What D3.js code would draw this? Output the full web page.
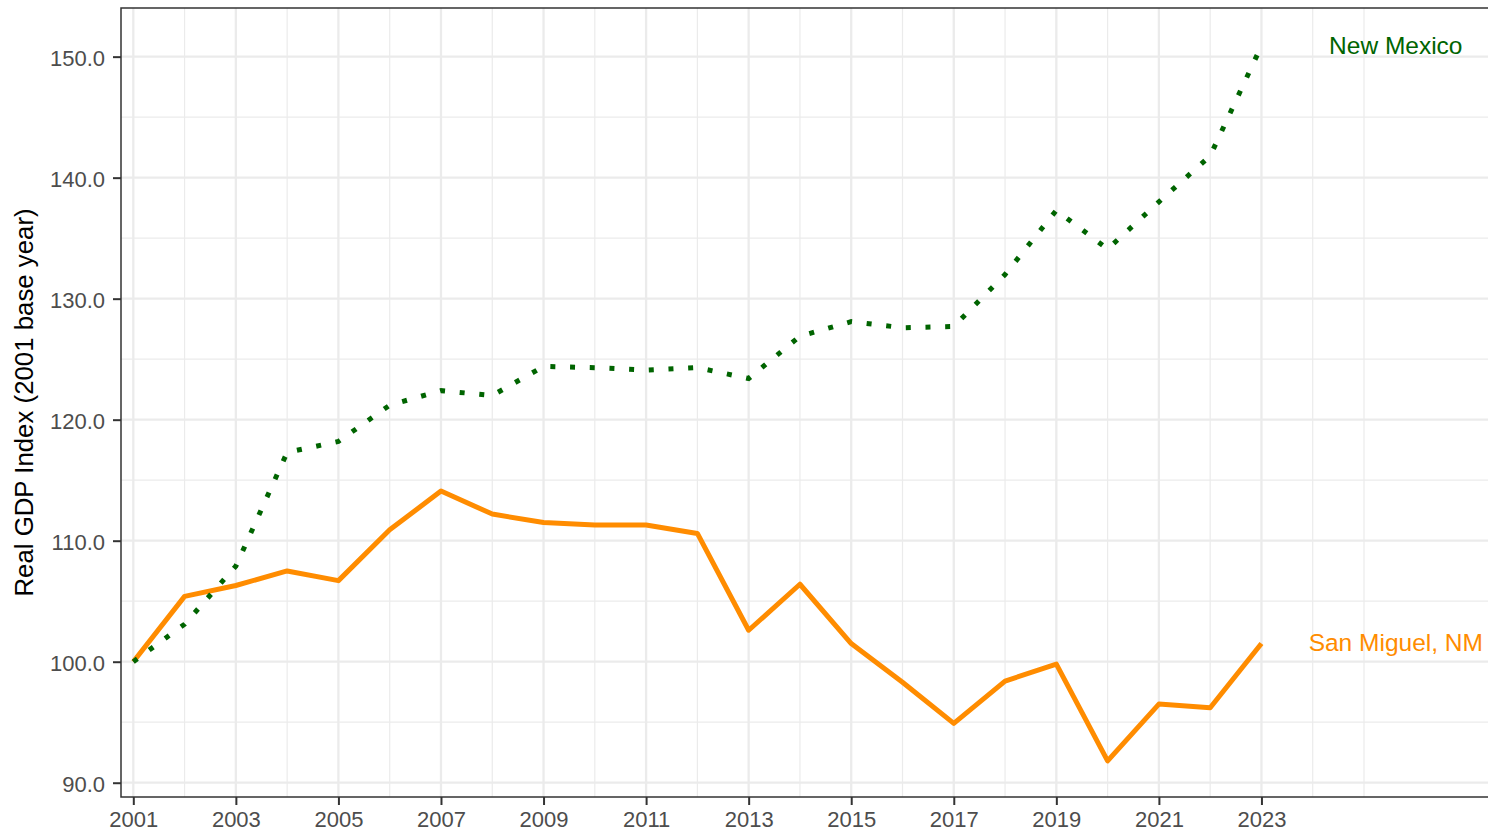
<!DOCTYPE html>
<html>
<head>
<meta charset="utf-8">
<script src="https://cdn.jsdelivr.net/npm/d3@7"></script>
<style>
  html, body { margin: 0; padding: 0; background: #ffffff; }
  svg { display: block; font-family: "Liberation Sans", Arial, Helvetica, sans-serif; }
</style>
</head>
<body>
<svg id="chart" width="1488" height="832"></svg>
<script>
// ---- data ----
const years = [2001, 2002, 2003, 2004, 2005, 2006, 2007, 2008, 2009, 2010, 2011, 2012,
               2013, 2014, 2015, 2016, 2017, 2018, 2019, 2020, 2021, 2022, 2023];
const newMexico = [100.0, 103.1, 107.9, 117.3, 118.2, 121.2, 122.4, 122.0, 124.4, 124.3, 124.1, 124.3,
                   123.4, 126.9, 128.1, 127.6, 127.7, 132.0, 137.3, 134.1, 138.0, 141.8, 150.9];
const sanMiguel = [100.0, 105.4, 106.3, 107.5, 106.7, 110.9, 114.1, 112.2, 111.5, 111.3, 111.3, 110.6,
                   102.6, 106.4, 101.5, 98.3, 94.9, 98.4, 99.8, 91.8, 96.5, 96.2, 101.5];
const seriesNames = ["San Miguel, NM", "New Mexico"];
const xTickYears = [2001, 2003, 2005, 2007, 2009, 2011, 2013, 2015, 2017, 2019, 2021, 2023];
const xMinorYears = [2002, 2004, 2006, 2008, 2010, 2012, 2014, 2016, 2018, 2020, 2022, 2024, 2025];
const yTicks = [90, 100, 110, 120, 130, 140, 150];
const yMinor = [95, 105, 115, 125, 135, 145];
const labelYear = 2025.62;
const yTitle = "Real GDP Index (2001 base year)";

// ---- layout ----
const svg = d3.select("#chart");
const pLeft = 121, pTop = 8, pBottom = 797, pRight = 1496;

const x = d3.scaleLinear().domain([2000.76, 2027.574]).range([pLeft, pRight]);
const y = d3.scaleLinear().domain([88.82, 154.02]).range([pBottom, pTop]);

const g = svg.append("g");

// minor grid
g.append("g").selectAll("line").data(yMinor).join("line")
  .attr("x1", pLeft).attr("x2", pRight)
  .attr("y1", d => y(d)).attr("y2", d => y(d))
  .attr("stroke", "#ebebeb").attr("stroke-width", 1.2);
g.append("g").selectAll("line").data(xMinorYears).join("line")
  .attr("x1", d => x(d)).attr("x2", d => x(d))
  .attr("y1", pTop).attr("y2", pBottom)
  .attr("stroke", "#ebebeb").attr("stroke-width", 1.2);
// major grid
g.append("g").selectAll("line").data(yTicks).join("line")
  .attr("x1", pLeft).attr("x2", pRight)
  .attr("y1", d => y(d)).attr("y2", d => y(d))
  .attr("stroke", "#ebebeb").attr("stroke-width", 2.3);
g.append("g").selectAll("line").data(xTickYears).join("line")
  .attr("x1", d => x(d)).attr("x2", d => x(d))
  .attr("y1", pTop).attr("y2", pBottom)
  .attr("stroke", "#ebebeb").attr("stroke-width", 2.3);

// lines
const rows = years.map((yr, i) => ({ year: yr, nm: newMexico[i], sm: sanMiguel[i] }));
const lineSM = d3.line().x(d => x(d.year)).y(d => y(d.sm));
const lineNM = d3.line().x(d => x(d.year)).y(d => y(d.nm));

g.append("path").datum(rows)
  .attr("d", lineSM)
  .attr("fill", "none").attr("stroke", "#ff8c00")
  .attr("stroke-width", 5).attr("stroke-linejoin", "round").attr("stroke-linecap", "butt");

g.append("path").datum(rows)
  .attr("d", lineNM)
  .attr("fill", "none").attr("stroke", "#006400")
  .attr("stroke-width", 5).attr("stroke-dasharray", "5,14.7").attr("stroke-linecap", "butt");

// labels
g.append("text")
  .attr("x", x(labelYear)).attr("y", y(newMexico[newMexico.length - 1]))
  .attr("dy", "0.32em").attr("text-anchor", "middle")
  .attr("font-size", 24.5).attr("fill", "#006400")
  .text(seriesNames[1]);
g.append("text")
  .attr("x", x(labelYear)).attr("y", y(sanMiguel[sanMiguel.length - 1]))
  .attr("dy", "0.32em").attr("text-anchor", "middle")
  .attr("font-size", 24.5).attr("fill", "#ff8c00")
  .text(seriesNames[0]);

// panel border
g.append("rect")
  .attr("x", pLeft).attr("y", pTop)
  .attr("width", pRight - pLeft).attr("height", pBottom - pTop)
  .attr("fill", "none").attr("stroke", "#333333").attr("stroke-width", 1.5);

// axes
const yAxis = d3.axisLeft(y).tickValues(yTicks).tickFormat(d3.format(".1f")).tickSize(8).tickPadding(8);
const xAxis = d3.axisBottom(x).tickValues(xTickYears).tickFormat(d3.format("d")).tickSize(8).tickPadding(6);

const ya = svg.append("g").attr("transform", `translate(${pLeft},0)`).call(yAxis);
ya.select(".domain").remove();
ya.selectAll(".tick line").attr("stroke", "#333333").attr("stroke-width", 2);
ya.selectAll(".tick text").attr("font-size", 22).attr("fill", "#4d4d4d")
  .attr("font-family", "Liberation Sans, Arial, sans-serif").attr("dy", "0.38em");

const xa = svg.append("g").attr("transform", `translate(0,${pBottom})`).call(xAxis);
xa.select(".domain").remove();
xa.selectAll(".tick line").attr("stroke", "#333333").attr("stroke-width", 2);
xa.selectAll(".tick text").attr("font-size", 22).attr("fill", "#4d4d4d")
  .attr("font-family", "Liberation Sans, Arial, sans-serif").attr("dy", "0.71em");

// y title
svg.append("text")
  .attr("transform", `translate(33,${(pTop + pBottom) / 2}) rotate(-90)`)
  .attr("text-anchor", "middle")
  .attr("font-size", 25.8).attr("fill", "#000000")
  .text(yTitle);
</script>
</body>
</html>
